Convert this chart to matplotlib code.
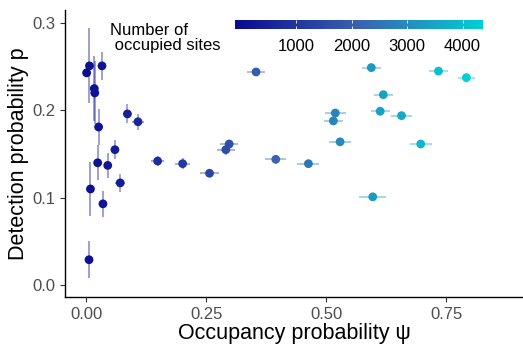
import numpy as np
import matplotlib
matplotlib.use("Agg")
import matplotlib.pyplot as plt
from matplotlib.colors import LinearSegmentedColormap, Normalize
from matplotlib.cm import ScalarMappable

plt.rcParams['font.family'] = ['Liberation Sans', 'DejaVu Sans']

# occupancy probability psi and detection probability p
psi = [0.001, 0.007, 0.033, 0.017, 0.018, 0.026, 0.086, 0.108, 0.060, 0.024,
       0.045, 0.149, 0.201, 0.009, 0.071, 0.035, 0.006, 0.257, 0.298, 0.291,
       0.395, 0.463, 0.529, 0.354, 0.594, 0.734, 0.792, 0.619, 0.519, 0.515,
       0.6125, 0.657, 0.697, 0.597]
p = [0.243, 0.251, 0.251, 0.225, 0.220, 0.181, 0.196, 0.187, 0.155, 0.140,
     0.137, 0.142, 0.139, 0.110, 0.117, 0.093, 0.029, 0.128, 0.1615, 0.155,
     0.144, 0.139, 0.164, 0.244, 0.249, 0.245, 0.2375, 0.218, 0.197, 0.188,
     0.199, 0.194, 0.1615, 0.101]
psi_err = [0.003, 0.003, 0.003, 0.003, 0.003, 0.003, 0.010, 0.012, 0.006, 0.004,
           0.005, 0.014, 0.015, 0.003, 0.010, 0.005, 0.003, 0.020, 0.019, 0.019,
           0.022, 0.023, 0.023, 0.019, 0.020, 0.019, 0.018, 0.020, 0.022, 0.020,
           0.020, 0.022, 0.023, 0.028]
p_err = [0.005, 0.043, 0.016, 0.037, 0.036, 0.021, 0.011, 0.009, 0.011, 0.020,
         0.014, 0.006, 0.006, 0.031, 0.010, 0.015, 0.021, 0.004, 0.005, 0.006,
         0.005, 0.004, 0.004, 0.004, 0.003, 0.003, 0.003, 0.003, 0.003, 0.003,
         0.003, 0.003, 0.003, 0.003]
# number of occupied sites (colour)
n_sites = [10, 40, 180, 95, 100, 145, 470, 595, 330, 130,
           250, 820, 1105, 50, 390, 190, 35, 1410, 1640, 1600,
           2170, 2545, 2910, 1945, 3265, 4035, 4355, 3405, 2855, 2830,
           3370, 3615, 3835, 3285]

cb_ticks = [1000, 2000, 3000, 4000]

cmap = LinearSegmentedColormap.from_list("sites", ["#0a0a8f", "#3a62b0", "#00cfd3"])
norm = Normalize(vmin=-110, vmax=4370)

fig = plt.figure(figsize=(5.23, 3.45), dpi=100)
ax = fig.add_axes([0.1243, 0.1391, 0.8757, 0.832])

for i in range(len(psi)):
    c = cmap(norm(n_sites[i]))
    ax.plot([psi[i] - psi_err[i], psi[i] + psi_err[i]], [p[i], p[i]],
            color=c, alpha=0.4, lw=1.4, solid_capstyle='butt', zorder=2)
    ax.plot([psi[i], psi[i]], [p[i] - p_err[i], p[i] + p_err[i]],
            color=c, alpha=0.4, lw=1.4, solid_capstyle='butt', zorder=2)
ax.scatter(psi, p, c=n_sites, cmap=cmap, norm=norm, s=40, linewidths=0, zorder=3)

ax.set_xlim(-0.044, 0.91)
ax.set_ylim(-0.0137, 0.315)
ax.set_xticks([0.0, 0.25, 0.5, 0.75])
ax.set_xticklabels(["0.00", "0.25", "0.50", "0.75"])
ax.set_yticks([0.0, 0.1, 0.2, 0.3])
ax.set_yticklabels(["0.0", "0.1", "0.2", "0.3"])
ax.spines['top'].set_visible(False)
ax.spines['right'].set_visible(False)
for s in ['left', 'bottom']:
    ax.spines[s].set_linewidth(1.0)
    ax.spines[s].set_color('black')
ax.tick_params(labelsize=12, labelcolor='#4d4d4d', color='#333333', length=3.5, width=0.8)
ax.set_xlabel("Occupancy probability ψ", fontsize=15.5, labelpad=1)
ax.set_ylabel("Detection probability p", fontsize=15.5, labelpad=2)

# legend: title + horizontal colour bar
fig.text(0.21, 0.89, "Number of\n occupied sites", fontsize=12, ha='left', va='center',
         linespacing=1.0)
cax = fig.add_axes([0.4493, 0.9145, 0.4742, 0.0275])
cb = fig.colorbar(ScalarMappable(norm=norm, cmap=cmap), cax=cax, orientation='horizontal',
                  ticks=cb_ticks)
cb.outline.set_visible(False)
cax.tick_params(axis='x', direction='in', color='white', length=2.5, width=0.6,
                labelsize=12, labelcolor='black', pad=7, top=True)

fig.savefig("out.png", dpi=100)
